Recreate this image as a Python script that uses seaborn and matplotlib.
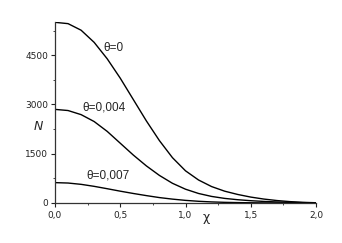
import numpy as np
import pandas as pd
import matplotlib
matplotlib.use("Agg")
import matplotlib.pyplot as plt
import seaborn as sns
from matplotlib.ticker import MultipleLocator, FuncFormatter

chi = [0.0, 0.1, 0.2, 0.3, 0.4, 0.5, 0.6, 0.7, 0.8, 0.9, 1.0,
       1.1, 1.2, 1.3, 1.4, 1.5, 1.6, 1.7, 1.8, 1.9, 2.0]
n_theta0 = [5500, 5460, 5260, 4890, 4390, 3800, 3150, 2500, 1900, 1380, 980,
            700, 500, 360, 260, 180, 120, 75, 42, 20, 8]
n_theta004 = [2850, 2815, 2690, 2480, 2180, 1820, 1460, 1130, 840, 600, 420,
              290, 200, 140, 100, 70, 48, 32, 20, 11, 5]
n_theta007 = [620, 608, 568, 507, 435, 360, 290, 225, 165, 118, 80,
              52, 33, 20, 12, 7, 4, 2, 1, 0, 0]
series_labels = ["θ=0", "θ=0,004", "θ=0,007"]
x_ticks = [0.0, 0.5, 1.0, 1.5, 2.0]
y_ticks = [0, 1500, 3000, 4500]

df = pd.DataFrame({
    "chi": chi * 3,
    "N": n_theta0 + n_theta004 + n_theta007,
    "theta": [series_labels[0]] * len(chi) + [series_labels[1]] * len(chi) + [series_labels[2]] * len(chi),
})

sns.set_style("ticks")
plt.rcParams["font.family"] = ["DejaVu Sans"]

fig = plt.figure(figsize=(3.42, 2.43), dpi=100)
ax = fig.add_axes([55 / 342, 1 - 203 / 243, (316 - 55) / 342, (203 - 22) / 243])

sns.lineplot(data=df, x="chi", y="N", hue="theta", units="theta", estimator=None,
             palette=["black"] * 3, linewidth=1.0, legend=False, ax=ax)

ax.set_xlim(0, 2.0)
ax.set_ylim(0, 5510)
ax.set_xticks(x_ticks)
ax.set_yticks(y_ticks)
ax.xaxis.set_minor_locator(MultipleLocator(0.25))
ax.yaxis.set_minor_locator(MultipleLocator(750))
ax.xaxis.set_major_formatter(FuncFormatter(lambda v, p: f"{v:.1f}".replace(".", ",")))
ax.tick_params(axis="both", which="major", direction="out", length=3, width=0.8,
               labelsize=6.5, pad=2, colors="#222222")
ax.tick_params(axis="x", which="major", pad=3)
ax.tick_params(axis="both", which="minor", direction="out", length=1.5, width=0.6)
sns.despine(ax=ax)
for s in ["left", "bottom"]:
    ax.spines[s].set_linewidth(0.9)
    ax.spines[s].set_color("#333333")

ax.set_xlabel("")
ax.set_ylabel("")
fig.text(38.5 / 342, 1 - 127 / 243, "N", fontsize=9, style="italic", ha="center", va="center")
fig.text(206 / 342, 1 - 217 / 243, "χ", fontsize=9, ha="center", va="center")

label_pos = [(113, 48), (104, 108), (108, 175)]
for lab, (px, py) in zip(series_labels, label_pos):
    fig.text(px / 342, 1 - py / 243, lab, fontsize=8.5, family="Liberation Sans",
             ha="center", va="center")

fig.savefig("out.png", dpi=100)
